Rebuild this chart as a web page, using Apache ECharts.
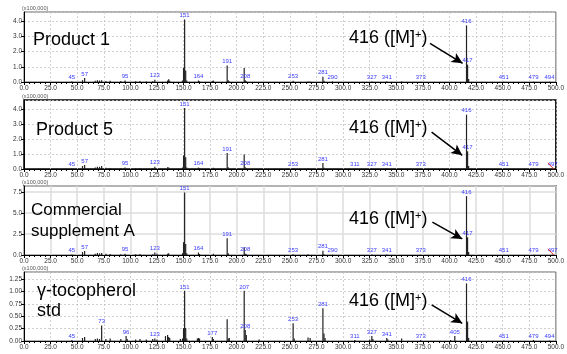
<!DOCTYPE html>
<html>
<head>
<meta charset="utf-8">
<script src="https://cdn.jsdelivr.net/npm/echarts@6/dist/echarts.min.js"></script>
<style>
  html, body { margin: 0; padding: 0; background: #fff; }
  #chart { width: 567px; height: 354px; }
</style>
</head>
<body>
<div id="chart"></div>
<script>
  /*----- mass spectra, intensity in x100,000 -----*/
  var p1Mz  = [45, 55, 57, 67, 69, 71, 73, 77, 81, 91, 95, 105, 109, 115, 121, 123, 135, 136, 137, 149, 150, 151, 152, 153, 164, 165, 177, 178, 191, 192, 193, 207, 208, 209, 253, 267, 269, 281, 282, 290, 327, 341, 355, 373, 416, 417, 418, 451, 479, 494];
  var p1Int = [0.04, 0.12, 0.26, 0.08, 0.12, 0.1, 0.12, 0.06, 0.08, 0.06, 0.1, 0.05, 0.06, 0.04, 0.05, 0.15, 0.1, 0.18, 0.08, 0.1, 0.95, 4.11, 0.75, 0.1, 0.1, 0.05, 0.06, 0.1, 1.09, 0.12, 0.04, 0.92, 0.12, 0.05, 0.08, 0.04, 0.03, 0.35, 0.08, 0.03, 0.04, 0.04, 0.03, 0.02, 3.72, 1.14, 0.2, 0.02, 0.02, 0.02];
  var p1Lbl = [45, 57, 95, 123, 151, 164, 191, 208, 253, 281, 290, 327, 341, 373, 416, 417, 451, 479, 494];

  var p2Mz  = [45, 55, 57, 67, 69, 71, 73, 77, 81, 91, 95, 105, 109, 121, 123, 135, 136, 149, 150, 151, 152, 153, 164, 165, 178, 191, 192, 207, 208, 209, 253, 267, 281, 282, 311, 327, 341, 373, 416, 417, 418, 451, 479, 497];
  var p2Int = [0.03, 0.2, 0.27, 0.1, 0.15, 0.15, 0.2, 0.08, 0.07, 0.06, 0.1, 0.05, 0.06, 0.05, 0.15, 0.12, 0.1, 0.1, 0.92, 4.11, 0.8, 0.1, 0.1, 0.05, 0.08, 1.08, 0.12, 0.97, 0.12, 0.05, 0.05, 0.05, 0.4, 0.08, 0.02, 0.03, 0.03, 0.02, 3.66, 1.19, 0.2, 0.02, 0.02, 0.02];
  var p2Lbl = [45, 57, 95, 123, 151, 164, 191, 208, 253, 281, 311, 327, 341, 373, 416, 417, 451, 479, 497];

  var p3Mz  = [45, 55, 57, 67, 69, 71, 73, 77, 81, 91, 95, 105, 109, 121, 123, 125, 135, 136, 149, 150, 151, 152, 153, 164, 165, 178, 191, 192, 207, 208, 209, 253, 267, 281, 282, 290, 327, 341, 373, 416, 417, 418, 451, 479, 497];
  var p3Int = [0.05, 0.35, 0.48, 0.15, 0.25, 0.2, 0.25, 0.15, 0.12, 0.1, 0.15, 0.1, 0.12, 0.1, 0.3, 0.15, 0.15, 0.2, 0.2, 1.52, 7.42, 1.3, 0.2, 0.3, 0.12, 0.15, 2.0, 0.2, 0.92, 0.15, 0.08, 0.08, 0.1, 0.5, 0.1, 0.03, 0.05, 0.05, 0.03, 7.0, 2.1, 0.35, 0.03, 0.03, 0.03];
  var p3Lbl = [45, 57, 95, 123, 151, 164, 191, 208, 253, 281, 290, 327, 341, 373, 416, 417, 451, 479, 497];

  var p4Mz  = [45, 55, 57, 67, 69, 71, 73, 77, 81, 91, 96, 97, 105, 109, 115, 121, 123, 125, 133, 135, 136, 137, 147, 149, 150, 151, 152, 153, 163, 164, 165, 177, 178, 191, 192, 193, 207, 208, 209, 221, 253, 254, 267, 269, 281, 282, 283, 311, 325, 327, 328, 341, 342, 355, 373, 401, 405, 416, 417, 418, 451, 479, 494];
  var p4Int = [0.02, 0.06, 0.08, 0.04, 0.05, 0.04, 0.31, 0.04, 0.05, 0.04, 0.1, 0.04, 0.03, 0.04, 0.03, 0.04, 0.05, 0.03, 0.1, 0.12, 0.08, 0.06, 0.04, 0.05, 0.26, 1.01, 0.26, 0.05, 0.05, 0.06, 0.05, 0.08, 0.04, 0.44, 0.05, 0.06, 1.01, 0.22, 0.12, 0.03, 0.36, 0.05, 0.07, 0.06, 0.66, 0.15, 0.06, 0.02, 0.03, 0.1, 0.04, 0.06, 0.03, 0.05, 0.02, 0.02, 0.1, 1.16, 0.39, 0.06, 0.01, 0.02, 0.01];
  var p4Lbl = [45, 73, 96, 123, 151, 177, 207, 208, 253, 281, 311, 327, 341, 373, 405, 416, 451, 479, 494];

  var panelNames = [['Product 1'], ['Product 5'], ['Commercial', 'supplement A'], ['\u03b3-tocopherol', 'std']];
  var yMax       = [4.6, 4.65, 8.2, 1.39];
  var yStep      = [1, 1, 2.5, 0.25];
  // arrow to the molecular ion: [m/z, intensity] of tail and head
  var arrowTail  = [[381.7, 2.54], [383.2, 2.49], [383.9, 3.91], [383.2, 0.726]];
  var arrowHead  = [[412.3, 1.23], [412, 0.92], [412, 1.91], [412, 0.357]];

  var mzList  = [p1Mz, p2Mz, p3Mz, p4Mz];
  var intList = [p1Int, p2Int, p3Int, p4Int];
  var lblList = [p1Lbl, p2Lbl, p3Lbl, p4Lbl];

  var gridTops = [12, 100, 186, 272];
  var gridH    = [70, 69, 69, 69];
  var heavy    = [false, true, true, false];
  var FONT = '"Liberation Sans", Arial, sans-serif';

  var grids = [], xAxes = [], yAxes = [], series = [], graphics = [];

  for (var i = 0; i < 4; i++) {
    grids.push({
      left: 24, right: 9, top: gridTops[i], height: gridH[i],
      show: true,
      borderColor: heavy[i] ? '#000' : '#666',
      borderWidth: heavy[i] ? 1.5 : 1
    });

    var gridLine = { color: i == 2 ? '#ddd' : '#c4c4c4', type: i == 2 ? 'solid' : [2, 2], width: i == 2 ? 1.5 : 0.8 };

    xAxes.push({
      gridIndex: i, type: 'value', min: 0, max: 500, interval: 25,
      axisLine: { onZero: false, lineStyle: { color: '#000', width: 1 } },
      axisTick: { show: true, length: 3, lineStyle: { color: '#000' } },
      minorTick: { show: true, splitNumber: 5, length: 2, lineStyle: { color: '#000' } },
      axisLabel: { fontSize: 6.5, color: '#333', margin: 3, fontFamily: FONT,
        formatter: function (v) { return v.toFixed(1); } },
      splitLine: { show: true, lineStyle: gridLine }
    });

    (function (step) {
      yAxes.push({
        gridIndex: i, type: 'value', min: 0, max: yMax[i], interval: step,
        name: '(x100,000)', nameLocation: 'end', nameGap: 1,
        nameTextStyle: { fontSize: 5.5, color: '#555', align: 'left', fontFamily: FONT, padding: [0, 0, 0, -2] },
        axisLine: { show: true, lineStyle: { color: '#000' } },
        axisTick: { show: true, length: 3, lineStyle: { color: '#000' } },
        axisLabel: { fontSize: 6.5, color: '#333', margin: 2, showMaxLabel: false, fontFamily: FONT,
          formatter: function (v) { return step < 1 ? v.toFixed(2) : v.toFixed(1); } },
        splitLine: { show: true, lineStyle: gridLine }
      });
    })(yStep[i]);

    var lbl = lblList[i];
    var data = mzList[i].map(function (m, j) {
      return { value: [m, intList[i][j]], label: { show: lbl.indexOf(m) >= 0 } };
    });

    var lines = [[
      { coord: arrowTail[i], symbol: 'none' },
      { coord: arrowHead[i], symbol: 'arrow', symbolSize: [8, 11] }
    ]];
    if (i == 1 || i == 2) {
      lines.push([
        { coord: [492.5, yMax[i] * 0.09], symbol: 'none', lineStyle: { color: '#e33', width: 1 } },
        { coord: [498, 0], symbol: 'none' }
      ]);
    }

    series.push({
      type: 'bar',
      xAxisIndex: i, yAxisIndex: i,
      barWidth: 1.2,
      itemStyle: { color: '#222' },
      label: { position: 'top', distance: 1, fontSize: 6, color: '#3a3aff', fontFamily: FONT,
        formatter: function (p) { return p.value[0]; } },
      data: data,
      markLine: {
        silent: true, animation: false,
        lineStyle: { color: '#000', width: 1.5, type: 'solid' },
        label: { show: false },
        data: lines
      }
    });

    // panel name
    var names = panelNames[i];
    var y0 = [41, 131, 212, 292][i];
    var x0 = [33, 36, 31, 37][i];
    names.forEach(function (t, k) {
      graphics.push({
        type: 'text', left: x0, top: y0 - 10 + k * 20.5, silent: true, z: 100,
        style: { text: t, font: (i == 2 ? '17px ' : '18px ') + FONT, fill: '#000' }
      });
    });

    // molecular ion annotation
    graphics.push({
      type: 'text', left: 349, top: [40, 130, 221, 303][i] - 11, silent: true, z: 100,
      style: {
        text: '{a|416 ([M]}{s|+}{a|)}',
        rich: {
          a: { fontSize: 18, fontFamily: FONT, fill: '#000', verticalAlign: 'bottom' },
          s: { fontSize: 11, fontFamily: FONT, fill: '#000', verticalAlign: 'top' }
        }
      }
    });
  }

  var option = {
    animation: false,
    backgroundColor: '#fff',
    textStyle: { fontFamily: FONT },
    grid: grids,
    xAxis: xAxes,
    yAxis: yAxes,
    series: series,
    graphic: graphics
  };

  var chart = echarts.init(document.getElementById('chart'));
  chart.setOption(option);
</script>
</body>
</html>
